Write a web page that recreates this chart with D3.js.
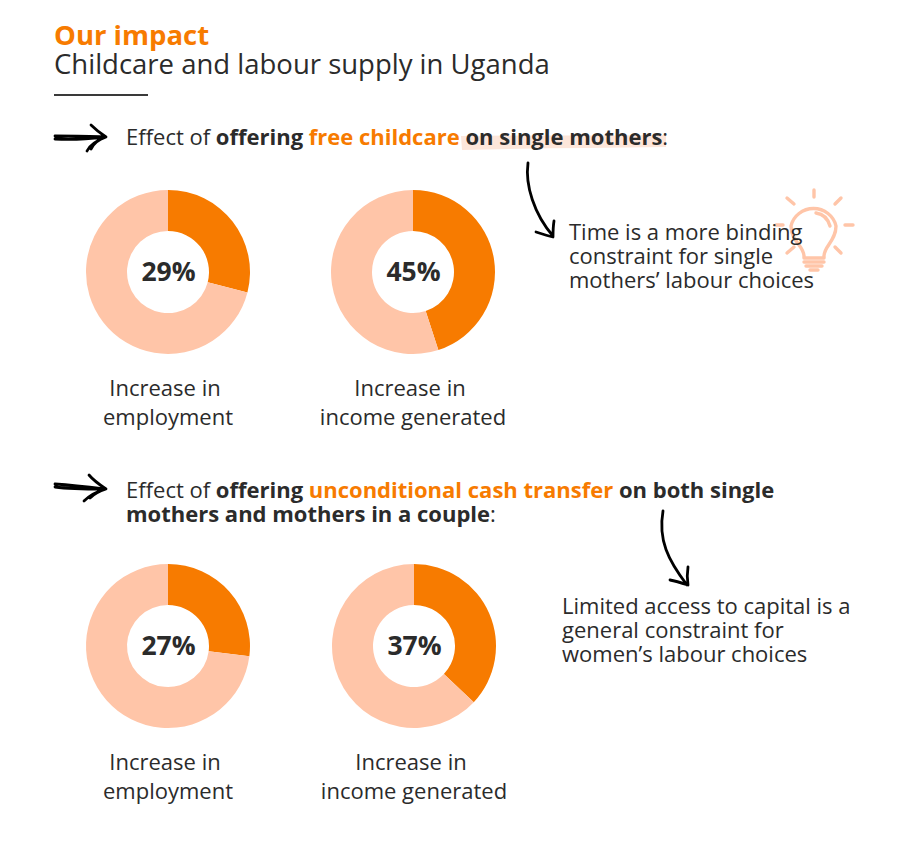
<!DOCTYPE html>
<html>
<head>
<meta charset="utf-8">
<script src="https://cdn.jsdelivr.net/npm/d3@7"></script>
<style>
html, body { margin: 0; padding: 0; background: #fff; }
svg { display: block; }
text { font-family: "Open Sans", sans-serif; fill: #2b2b2b; }
</style>
</head>
<body>
<div id="chart"></div>
<script>
// Impact shares shown in the four donuts
const donutLabels = ["29%", "45%", "27%", "37%"];
const donutValues = [29, 45, 27, 37];
const donutCaptions = [
  ["Increase in", "employment"],
  ["Increase in", "income generated"],
  ["Increase in", "employment"],
  ["Increase in", "income generated"]
];
const donutCentres = [[168, 272], [413, 272], [168, 646], [414, 646]];
const captionCentres = [168, 413, 168, 414];
const captionTops = [396, 396, 770, 770];

const ORANGE = "#f77b00";
const PEACH = "#ffc5a8";
const INK = "#2b2b2b";

const svg = d3.select("#chart").append("svg").attr("width", 903).attr("height", 843);

const radius = d3.scaleLinear().domain([0, 1]).range([0, 82]);
const arc = d3.arc().innerRadius(radius(0.5)).outerRadius(radius(1));
const pie = d3.pie().sort(null);

// Headline block
svg.append("text").attr("x", 54).attr("y", 45)
  .attr("font-size", 27.5).attr("font-weight", 700).style("fill", ORANGE).text("Our impact");
svg.append("text").attr("x", 54).attr("y", 74)
  .attr("font-size", 27.5).text("Childcare and labour supply in Uganda");
svg.append("line").attr("x1", 54).attr("x2", 148).attr("y1", 95).attr("y2", 95)
  .attr("stroke", "#3a3a3a").attr("stroke-width", 2);

// Soft marker stroke behind the first heading
svg.append("path")
  .attr("d", "M461 136 C530 135 600 136 666 135 L666 147 C600 148 530 148 462 150 Z")
  .attr("fill", "#fde6da");

// Section headings with mixed weights
function heading(y, runs) {
  const t = svg.append("text").attr("x", 126).attr("y", y).attr("font-size", 22);
  runs.forEach(([txt, bold, orange]) => {
    t.append("tspan")
      .attr("font-weight", bold ? 700 : 400)
      .style("fill", orange ? ORANGE : INK)
      .text(txt);
  });
}
heading(145, [["Effect of ", false, false], ["offering ", true, false], ["free childcare ", true, true], ["on single mothers", true, false], [":", false, false]]);
heading(498, [["Effect of ", false, false], ["offering ", true, false], ["unconditional cash transfer ", true, true], ["on both single", true, false]]);
heading(522, [["mothers and mothers in a couple", true, false], [":", false, false]]);

// Light bulb icon behind the first note
const bulb = svg.append("g").attr("fill", "none").attr("stroke", PEACH)
  .attr("stroke-width", 3.4).attr("stroke-linecap", "round").attr("stroke-linejoin", "round");
bulb.append("path").attr("d", "M804 256 C804 246 791 241 791 226 A23 22 0 0 1 836 226 C836 241 824 246 824 256 L824 258 L804 258 Z");
bulb.append("path").attr("d", "M816 213 C823 214 828 219 830 226");
bulb.append("path").attr("d", "M804 262 H824 M806 266 H822 M810 270 H818");
bulb.append("path").attr("d", "M814 190 V197 M787 198 L794 204 M841 198 L835 204 M776 225 H783 M845 225 H853 M787 253 L794 247 M841 253 L835 247");

// Hand-drawn arrows
function sketchArrow(d, w) {
  svg.append("path").attr("d", d).attr("fill", "none").attr("stroke", "#000")
    .attr("stroke-linecap", "round").attr("stroke-linejoin", "round").attr("stroke-width", w);
}
sketchArrow("M55 136 C70 136 88 136 104 137 M55 139 C70 140 88 139 104 137 M91 125 C96 130 100 133 106 137 C98 140 90 144 87 151 M106 137 C100 139 94 143 91 149", 2.8);
sketchArrow("M55 484 C70 485 88 487 104 489 M55 487 C70 489 88 489 104 489 M89 475 C94 481 100 485 106 489 C98 491 90 495 84 501 M106 489 C100 491 94 494 90 498", 2.8);
sketchArrow("M528 163 C525 185 534 214 553 236 M536 232 C542 234 548 236 553 237 C553 232 553 227 554 221", 2.8);
sketchArrow("M663 511 C658 540 668 560 687 585 M670 580 C676 581 682 583 688 585 C687 578 687 573 688 567", 2.8);

// Notes to the right of the donuts
function note(x, y, lines) {
  lines.forEach((l, i) => svg.append("text").attr("x", x).attr("y", y + i * 24).attr("font-size", 22).text(l));
}
note(569, 240, ["Time is a more binding", "constraint for single", "mothers\u2019 labour choices"]);
note(562, 614, ["Limited access to capital is a", "general constraint for", "women\u2019s labour choices"]);

// Donuts: orange share on peach remainder, clockwise from twelve o'clock
donutValues.forEach((v, i) => {
  const [cx, cy] = donutCentres[i];
  const g = svg.append("g").attr("transform", `translate(${cx},${cy})`);
  g.selectAll("path").data(pie([v, 100 - v])).join("path")
    .attr("d", arc)
    .attr("fill", (d, j) => j === 0 ? ORANGE : PEACH);
  g.append("text").attr("text-anchor", "middle").attr("x", 0.5).attr("y", 9)
    .attr("font-size", 26.5).attr("font-weight", 700).text(donutLabels[i]);
  donutCaptions[i].forEach((line, k) => {
    svg.append("text").attr("x", captionCentres[i] - (k === 0 ? 3 : 0)).attr("y", captionTops[i] + k * 29)
      .attr("text-anchor", "middle").attr("font-size", 22).text(line);
  });
});
</script>
</body>
</html>
